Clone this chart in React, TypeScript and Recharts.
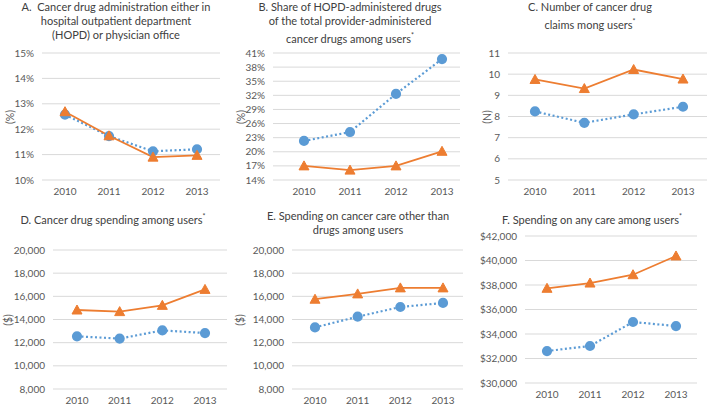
import { LineChart, Line, XAxis, YAxis, CartesianGrid } from 'recharts'

const years = ['2010', '2011', '2012', '2013']

// A. administration in HOPD or physician office (%)
const adminDotted = [12.57, 11.73, 11.13, 11.21]
const adminSolid = [12.69, 11.74, 10.9, 10.97]
const adminTicks = [10, 11, 12, 13, 14, 15]

// B. share of HOPD-administered drugs (%)
const shareDotted = [22.3, 24.2, 32.3, 39.7]
const shareSolid = [17.0, 16.1, 17.0, 20.1]
const shareTicks = [14, 17, 20, 23, 26, 29, 32, 35, 38, 41]

// C. number of claims (N)
const claimsDotted = [8.24, 7.7, 8.1, 8.46]
const claimsSolid = [9.75, 9.32, 10.22, 9.77]
const claimsTicks = [5, 6, 7, 8, 9, 10, 11]

// D. drug spending ($)
const drugDotted = [12550, 12350, 13060, 12830]
const drugSolid = [14820, 14680, 15220, 16600]
const spendTicks = [8000, 10000, 12000, 14000, 16000, 18000, 20000]

// E. other cancer care spending ($)
const otherDotted = [13320, 14240, 15080, 15430]
const otherSolid = [15750, 16210, 16730, 16730]

// F. any care spending ($)
const anyDotted = [32610, 33020, 34980, 34650]
const anySolid = [37730, 38160, 38840, 40370]
const anyTicks = [30000, 32000, 34000, 36000, 38000, 40000, 42000]

const BLUE = '#5b9bd5'
const ORANGE = '#ed7d31'
const FONT = 'Lato, "Open Sans", sans-serif'

const rows = (dotted: number[], solid: number[]) =>
  years.map((year, i) => ({ year, dotted: dotted[i], solid: solid[i] }))

const pct = (v: number) => `${v}%`
const plain = (v: number) => `${v}`
const thousands = (v: number) => v.toLocaleString('en-US')
const dollars = (v: number) => '$' + v.toLocaleString('en-US')

const Triangle = (props: any) => {
  const { cx, cy, index } = props
  if (cx == null || cy == null) return <g key={index} />
  return (
    <path
      key={index}
      d={`M${cx},${cy - 5} L${cx + 5},${cy + 4} L${cx - 5},${cy + 4} Z`}
      fill={ORANGE}
      stroke={ORANGE}
    />
  )
}

type PanelProps = {
  x0: number
  left: number
  right: number
  top: number
  bottom: number
  padL: number
  padR: number
  dotted: number[]
  solid: number[]
  ticks: number[]
  fmt: (v: number) => string
  title: React.ReactNode
  titleX: number
  titleY: number
  yLabel?: string
  yLabelX?: number
}

function Panel(p: PanelProps) {
  const chartTop = p.top - 10
  const w = p.right - p.x0 + 2
  const h = p.bottom - chartTop + 24
  return (
    <>
      <div
        style={{
          position: 'absolute',
          left: p.titleX - 120,
          top: p.titleY,
          width: 240,
          textAlign: 'center',
          fontSize: 11,
          lineHeight: '14px',
          color: '#404040',
          fontFamily: FONT,
        }}
      >
        {p.title}
      </div>
      {p.yLabel && (
        <div
          style={{
            position: 'absolute',
            left: (p.yLabelX ?? 0) - 20,
            top: (p.top + p.bottom) / 2 - 7,
            width: 40,
            textAlign: 'center',
            transform: 'rotate(-90deg)',
            fontSize: 10.5,
            lineHeight: '14px',
            color: '#595959',
            fontFamily: FONT,
          }}
        >
          {p.yLabel}
        </div>
      )}
      <div style={{ position: 'absolute', left: p.x0, top: chartTop }}>
        <LineChart
          width={w}
          height={h}
          data={rows(p.dotted, p.solid)}
          margin={{ top: 10, right: 2, bottom: 4, left: 0 }}
        >
          <CartesianGrid vertical={false} stroke="#d9d9d9" />
          <XAxis
            dataKey="year"
            axisLine={false}
            tickLine={false}
            height={20}
            padding={{ left: p.padL, right: p.padR }}
            tick={{ fill: '#595959', fontSize: 10, fontFamily: FONT }}
          />
          <YAxis
            width={p.left - p.x0}
            domain={[p.ticks[0], p.ticks[p.ticks.length - 1]]}
            ticks={p.ticks}
            interval={0}
            axisLine={false}
            tickLine={false}
            tickFormatter={p.fmt}
            tick={{ fill: '#595959', fontSize: 10, fontFamily: FONT }}
          />
          <Line
            dataKey="dotted"
            stroke={BLUE}
            strokeWidth={2.2}
            strokeDasharray="2 2.5"
            dot={{ r: 4, fill: BLUE, stroke: BLUE, strokeDasharray: '' }}
            isAnimationActive={false}
          />
          <Line
            dataKey="solid"
            stroke={ORANGE}
            strokeWidth={1.8}
            dot={Triangle}
            isAnimationActive={false}
          />
        </LineChart>
      </div>
    </>
  )
}

const star = <sup style={{ fontSize: 7 }}>*</sup>

export default function App() {
  return (
    <div
      style={{
        position: 'absolute',
        left: 0,
        top: 0,
        width: 709,
        height: 408,
        background: '#fff',
        overflow: 'hidden',
      }}
    >
      <Panel
        x0={0} left={42} right={220} top={53} bottom={180} padL={23} padR={23}
        dotted={adminDotted} solid={adminSolid} ticks={adminTicks} fmt={pct}
        title={<>A.&nbsp; Cancer drug administration either in<br />hospital outpatient department<br />(HOPD) or physician office</>}
        titleX={116} titleY={0} yLabel="(%)" yLabelX={10}
      />
      <Panel
        x0={230} left={273} right={460} top={53} bottom={180} padL={31} padR={18}
        dotted={shareDotted} solid={shareSolid} ticks={shareTicks} fmt={pct}
        title={<>B. Share of HOPD-administered drugs<br />of the total provider-administered<br />cancer drugs among users{star}</>}
        titleX={350} titleY={0} yLabel="(%)" yLabelX={241}
      />
      <Panel
        x0={465} left={508} right={707} top={53} bottom={180} padL={27} padR={24}
        dotted={claimsDotted} solid={claimsSolid} ticks={claimsTicks} fmt={plain}
        title={<>C. Number of cancer drug<br />claims mong users{star}</>}
        titleX={590} titleY={0} yLabel="(N)" yLabelX={487}
      />
      <Panel
        x0={0} left={53} right={227} top={250} bottom={389} padL={24} padR={22}
        dotted={drugDotted} solid={drugSolid} ticks={spendTicks} fmt={thousands}
        title={<>D. Cancer drug spending among users{star}</>}
        titleX={113} titleY={209} yLabel="($)" yLabelX={8}
      />
      <Panel
        x0={230} left={292} right={463} top={250} bottom={389} padL={23} padR={20}
        dotted={otherDotted} solid={otherSolid} ticks={spendTicks} fmt={thousands}
        title={<>E. Spending on cancer care other than<br />drugs among users</>}
        titleX={358} titleY={209} yLabel="($)" yLabelX={240}
      />
      <Panel
        x0={465} left={525} right={697} top={236} bottom={383} padL={22} padR={21}
        dotted={anyDotted} solid={anySolid} ticks={anyTicks} fmt={dollars}
        title={<>F. Spending on any care among users{star}</>}
        titleX={592} titleY={209}
      />
    </div>
  )
}
